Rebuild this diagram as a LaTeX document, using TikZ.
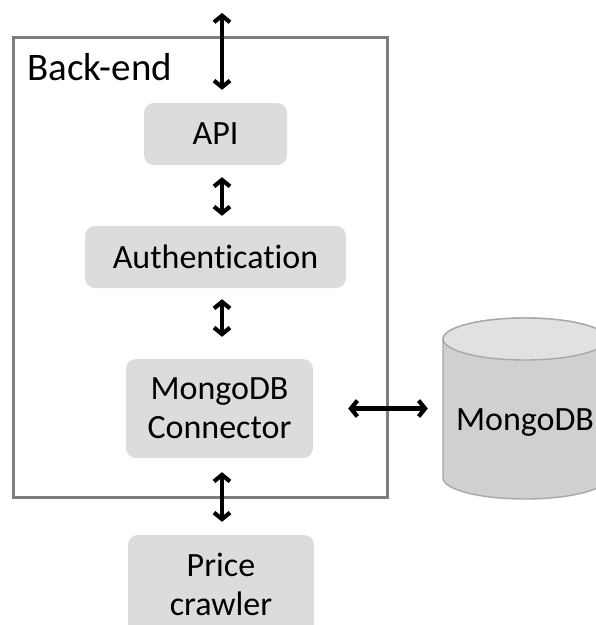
\documentclass[tikz,border=0pt]{standalone}
\usepackage{fontspec}
\setmainfont{Carlito}[Ligatures={NoCommon,NoDiscretionary}]
\usetikzlibrary{arrows.meta}
\definecolor{boxfill}{RGB}{220,220,220}
\definecolor{frame}{RGB}{125,125,125}
\definecolor{cylside}{RGB}{208,208,210}
\definecolor{cyltop}{RGB}{225,225,225}
\definecolor{cylline}{RGB}{168,168,168}
\tikzset{
  x=1pt, y=-1pt,
  compbox/.style={fill=boxfill, rounded corners=10pt, inner sep=0pt, align=center,
    font=\fontsize{34}{39}\selectfont},
  barb/.tip={Straight Barb[length=6.5pt,width=16pt,line width=4.2pt]},
  dbl/.style={line width=4.2pt, draw=black, barb-barb},
}
\begin{document}
\begin{tikzpicture}
\useasboundingbox (0,0) rectangle (596,625);
% back-end frame
\node[draw=frame, line width=3pt, minimum width=374pt, minimum height=460pt, inner sep=0pt]
  (backend) at (200,267) {};
\node[anchor=base west, inner sep=0pt, font=\fontsize{39}{45}\selectfont]
  (title) at (27,80) {Back-end};
% components
\node[compbox, minimum width=143pt, minimum height=62pt] (api) at (215.5,134) {API};
\node[compbox, minimum width=261pt, minimum height=62pt] (auth) at (215.5,257) {Authentication};
\node[compbox, minimum width=187pt, minimum height=99pt] (conn) at (219.5,408.5) {MongoDB\\Connector};
\node[compbox, minimum width=186pt, minimum height=108pt] (price) at (221,589) {};
\node[align=center, inner sep=0pt, font=\fontsize{34}{39}\selectfont] (pricetext) at (221,584) {Price\\crawler};
% database cylinder
\node[inner sep=0pt, minimum width=164pt, minimum height=181pt] (db) at (525,408.5) {};
\filldraw[fill=cylside, draw=cylline, line width=1.4pt]
  (443,339) -- (443,478) arc[start angle=180, end angle=360, x radius=82, y radius=-21]
  -- (607,339) arc[start angle=0, end angle=180, x radius=82, y radius=-21] -- cycle;
\filldraw[fill=cyltop, draw=cylline, line width=1.4pt]
  (525,339) ellipse[x radius=82, y radius=21];
\node[anchor=base, inner sep=0pt, font=\fontsize{34}{39}\selectfont] (dbtext) at (525,430) {MongoDB};
% connectors
\coordinate (ax) at (222,0);
\coordinate (ext) at (222,13);
\draw[dbl, shorten >=13pt] (ext) -- (api.north -| ax);
\draw[dbl, shorten <=12pt, shorten >=10pt] (api.south -| ax) -- (auth.north -| ax);
\draw[dbl, shorten <=11pt, shorten >=22pt] (auth.south -| ax) -- (conn.north -| ax);
\draw[dbl, shorten <=14pt, shorten >=13pt] (conn.south -| ax) -- (price.north -| ax);
\draw[dbl, shorten <=35pt, shorten >=15pt] (conn.east) -- (db.west);
\end{tikzpicture}
\end{document}
